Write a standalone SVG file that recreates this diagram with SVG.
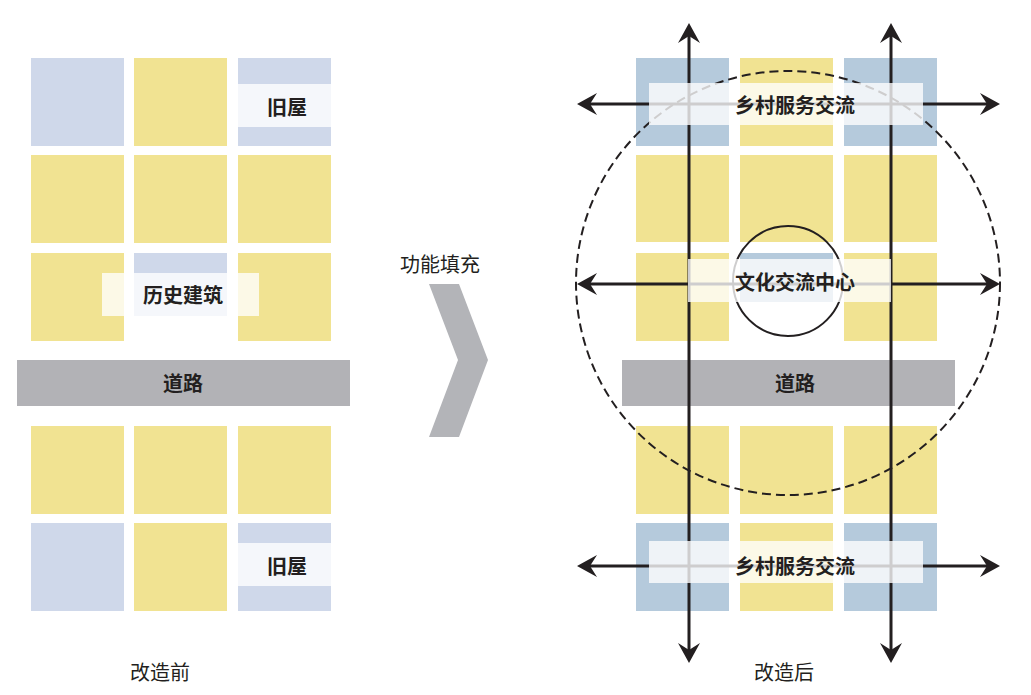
<svg xmlns="http://www.w3.org/2000/svg" width="1031" height="695" viewBox="0 0 1031 695">
<style>
.y{fill:#f1e392}
.b{fill:#cfd8ea}
.b2{fill:#b5cadc}
.road{fill:#b2b2b6}
.lab{fill:#ffffff;fill-opacity:0.78}
.t{font-family:"Noto Sans CJK SC","Noto Sans",sans-serif;font-size:20px;font-weight:bold;fill:#231f20;text-anchor:middle;dominant-baseline:central}
.c{font-family:"Noto Sans CJK SC","Noto Sans",sans-serif;font-size:20px;fill:#231f20;text-anchor:middle;dominant-baseline:central}
.ln{stroke:#231f20;stroke-width:3;fill:none}
</style>
<defs>
<marker id="ah" viewBox="-21 -12 22 24" refX="-6" refY="0" markerWidth="22" markerHeight="24" markerUnits="userSpaceOnUse" orient="auto-start-reverse">
<path d="M0,0 L-20,-11 L-13,0 L-20,11 Z" fill="#231f20"/>
</marker>
</defs>
<rect width="1031" height="695" fill="#ffffff"/>

<g id="before">
<g id="before-cells">
<rect class="b" x="31" y="58" width="93" height="88"/>
<rect class="y" x="134" y="58" width="93" height="88"/>
<rect class="b" x="238" y="58" width="93" height="88"/>
<rect class="y" x="31" y="155" width="93" height="88"/>
<rect class="y" x="134" y="155" width="93" height="88"/>
<rect class="y" x="238" y="155" width="93" height="88"/>
<rect class="y" x="31" y="253" width="93" height="88"/>
<rect class="b" x="134" y="253" width="93" height="63"/>
<rect class="y" x="238" y="253" width="93" height="88"/>
<rect class="y" x="31" y="426" width="93" height="88"/>
<rect class="y" x="134" y="426" width="93" height="88"/>
<rect class="y" x="238" y="426" width="93" height="88"/>
<rect class="b" x="31" y="523" width="93" height="88"/>
<rect class="y" x="134" y="523" width="93" height="88"/>
<rect class="b" x="238" y="523" width="93" height="88"/>
</g>
<g id="before-road">
<rect class="road" x="17" y="360" width="333" height="46"/>
<text class="t" x="183" y="382">道路</text>
</g>
<g id="before-oldhouse-top">
<rect class="lab" x="238" y="84" width="93" height="43"/>
<text class="t" x="287" y="106">旧屋</text>
</g>
<g id="before-historic">
<rect class="lab" x="102" y="273" width="157" height="43"/>
<text class="t" x="183" y="294">历史建筑</text>
</g>
<g id="before-oldhouse-bottom">
<rect class="lab" x="238" y="543" width="93" height="43"/>
<text class="t" x="287" y="565">旧屋</text>
</g>
<text class="c" x="160" y="671">改造前</text>
</g>

<g id="transition">
<text class="c" x="440" y="263">功能填充</text>
<polygon points="429,284 459,284 488,360 459,437 429,437 458,360" fill="#b3b4b8"/>
</g>

<g id="after">
<g id="after-cells">
<rect class="b2" x="636" y="58" width="93" height="88"/>
<rect class="y" x="740" y="58" width="93" height="88"/>
<rect class="b2" x="844" y="58" width="93" height="88"/>
<rect class="y" x="636" y="155" width="93" height="87"/>
<rect class="y" x="740" y="155" width="93" height="87"/>
<rect class="y" x="844" y="155" width="93" height="87"/>
<rect class="y" x="636" y="253" width="93" height="88"/>
<rect class="b2" x="740" y="253" width="93" height="49"/>
<rect class="y" x="844" y="253" width="93" height="88"/>
<rect class="y" x="636" y="426" width="93" height="88"/>
<rect class="y" x="740" y="426" width="93" height="88"/>
<rect class="y" x="844" y="426" width="93" height="88"/>
<rect class="b2" x="636" y="523" width="93" height="88"/>
<rect class="y" x="740" y="523" width="93" height="88"/>
<rect class="b2" x="844" y="523" width="93" height="88"/>
</g>
<g id="after-road">
<rect class="road" x="622" y="360" width="333" height="46"/>
</g>
<g id="influence-zone">
<circle cx="788" cy="283" r="212" fill="none" stroke="#231f20" stroke-width="2" stroke-dasharray="9 5"/>
</g>
<g id="center-circle">
<circle cx="788" cy="281" r="55" fill="none" stroke="#231f20" stroke-width="2"/>
</g>
</g>

<g id="connectors">
<line class="ln" x1="689" y1="29" x2="689" y2="657" marker-start="url(#ah)" marker-end="url(#ah)"/>
<line class="ln" x1="891" y1="29" x2="891" y2="657" marker-start="url(#ah)" marker-end="url(#ah)"/>
<line class="ln" x1="583" y1="104" x2="994" y2="104" marker-start="url(#ah)" marker-end="url(#ah)"/>
<line class="ln" x1="583" y1="284" x2="994" y2="284" marker-start="url(#ah)" marker-end="url(#ah)"/>
<line class="ln" x1="583" y1="566" x2="994" y2="566" marker-start="url(#ah)" marker-end="url(#ah)"/>
</g>

<g id="after-labels">
<g id="label-road">
<text class="t" x="795" y="382">道路</text>
</g>
<g id="label-service-top">
<rect class="lab" x="649" y="83" width="274" height="42"/>
<text class="t" x="795" y="104">乡村服务交流</text>
</g>
<g id="label-culture-center">
<rect class="lab" x="688" y="259" width="203" height="43"/>
<text class="t" x="795" y="281">文化交流中心</text>
</g>
<g id="label-service-bottom">
<rect class="lab" x="649" y="541" width="274" height="42"/>
<text class="t" x="795" y="565">乡村服务交流</text>
</g>
<text class="c" x="784" y="671">改造后</text>
</g>
</svg>
